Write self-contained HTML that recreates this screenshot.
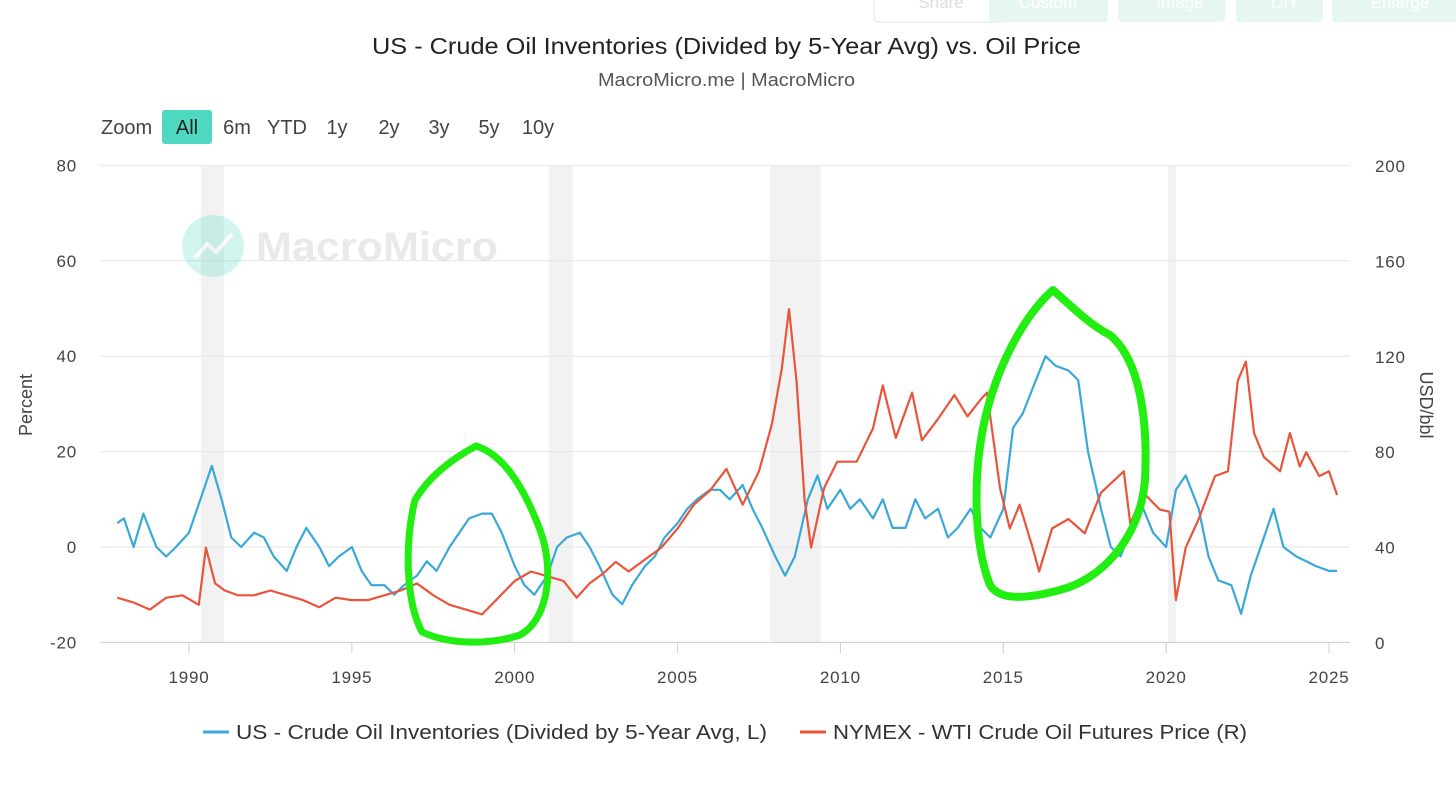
<!DOCTYPE html>
<html><head><meta charset="utf-8">
<style>
body{margin:0;background:#fff;font-family:"Liberation Sans",sans-serif;}
svg text{font-family:"Liberation Sans",sans-serif;}
</style></head>
<body>
<svg id="c" width="1456" height="797" xmlns="http://www.w3.org/2000/svg">
<g>
<rect x="874" y="-12" width="134" height="34" rx="4" fill="#fff" stroke="#e5e5e5"/>
<text x="941" y="8" text-anchor="middle" font-size="17" fill="#ddd">Share</text>
<rect x="989" y="-12" width="119" height="34" rx="4" fill="#e6f6f1"/>
<text x="1048" y="8" text-anchor="middle" font-size="17" fill="#fff">Custom</text>
<rect x="1118" y="-12" width="107" height="34" rx="4" fill="#e6f6f1"/>
<text x="1180" y="8" text-anchor="middle" font-size="17" fill="#fff">Image</text>
<rect x="1236" y="-12" width="87" height="34" rx="4" fill="#e6f6f1"/>
<text x="1285" y="8" text-anchor="middle" font-size="17" fill="#fff">DIY</text>
<rect x="1332" y="-12" width="130" height="34" rx="4" fill="#e6f6f1"/>
<text x="1400" y="8" text-anchor="middle" font-size="17" fill="#fff">Enlarge</text>
</g>
<text x="372" y="54" textLength="709" lengthAdjust="spacingAndGlyphs" font-size="23" fill="#222">US - Crude Oil Inventories (Divided by 5-Year Avg) vs. Oil Price</text>
<text x="598" y="86" textLength="257" lengthAdjust="spacingAndGlyphs" font-size="18" fill="#555">MacroMicro.me | MacroMicro</text>
<g>
<text x="101" y="134" font-size="20" fill="#444">Zoom</text>
<rect x="162" y="110" width="50" height="34" rx="3" fill="#4fd8c0"/>
<text x="187" y="134" text-anchor="middle" font-size="20" fill="#222">All</text>
<text x="237" y="134" text-anchor="middle" font-size="20" fill="#444">6m</text>
<text x="287" y="134" text-anchor="middle" font-size="20" fill="#444">YTD</text>
<text x="337" y="134" text-anchor="middle" font-size="20" fill="#444">1y</text>
<text x="389" y="134" text-anchor="middle" font-size="20" fill="#444">2y</text>
<text x="439" y="134" text-anchor="middle" font-size="20" fill="#444">3y</text>
<text x="489" y="134" text-anchor="middle" font-size="20" fill="#444">5y</text>
<text x="538" y="134" text-anchor="middle" font-size="20" fill="#444">10y</text>
</g>
<g id="bands"></g>
<g id="grid"></g>
<g opacity="0.25">
<circle cx="213" cy="246" r="31" fill="#4fd8c0"/>
<polyline points="195,258 207,244 216,252 232,234" fill="none" stroke="#fff" stroke-width="4"/>
<text x="256" y="260" textLength="242" lengthAdjust="spacingAndGlyphs" font-size="40" font-weight="bold" fill="#aaa">MacroMicro</text>
</g>
<g id="series"></g>
<g fill="none" stroke="#22ee11" stroke-linecap="round" stroke-linejoin="round">
<path stroke-width="7" d="M476,446 C505,455 525,490 540,530 C555,570 548,620 520,635 C490,645 450,645 422,632 C405,600 405,540 415,500 C428,478 450,460 476,446"/>
<path stroke-width="8" d="M1053,290 C1070,305 1090,325 1110,335 C1140,360 1148,420 1145,480 C1140,540 1100,580 1060,590 C1030,598 1000,602 990,585 C972,540 972,460 990,400 C1005,350 1030,310 1053,290"/>
</g>
<text x="32" y="405" transform="rotate(-90 32 405)" text-anchor="middle" font-size="18" fill="#444">Percent</text>
<text x="1420" y="405" transform="rotate(90 1420 405)" text-anchor="middle" font-size="18" fill="#444">USD/bbl</text>
<g>
<line x1="203" y1="732" x2="229" y2="732" stroke="#3aa8d8" stroke-width="3"/>
<text x="236" y="739" textLength="531" lengthAdjust="spacingAndGlyphs" font-size="20" fill="#333">US - Crude Oil Inventories (Divided by 5-Year Avg, L)</text>
<line x1="800" y1="732" x2="826" y2="732" stroke="#e8553a" stroke-width="3"/>
<text x="833" y="739" textLength="414" lengthAdjust="spacingAndGlyphs" font-size="20" fill="#333">NYMEX - WTI Crude Oil Futures Price (R)</text>
</g>
</svg>
<script>
const leftTicks=[80,60,40,20,0,-20];
const rightTicks=[200,160,120,80,40,0];
const xTicks=[1990,1995,2000,2005,2010,2015,2020,2025];
const recessions=[[1990.37,1991.07],[2001.05,2001.79],[2007.84,2009.4],[2020.06,2020.3]];
const invDates=[1987.8,1988,1988.3,1988.6,1989,1989.3,1989.6,1990,1990.2,1990.45,1990.7,1991,1991.3,1991.6,1992,1992.3,1992.6,1993,1993.3,1993.6,1994,1994.3,1994.6,1995,1995.3,1995.6,1996,1996.3,1996.6,1997,1997.3,1997.6,1998,1998.3,1998.6,1999,1999.3,1999.6,2000,2000.3,2000.6,2001,2001.3,2001.6,2002,2002.3,2002.6,2003,2003.3,2003.6,2004,2004.3,2004.6,2005,2005.3,2005.6,2006,2006.3,2006.6,2007,2007.3,2007.6,2008,2008.3,2008.6,2009,2009.3,2009.6,2010,2010.3,2010.6,2011,2011.3,2011.6,2012,2012.3,2012.6,2013,2013.3,2013.6,2014,2014.3,2014.6,2015,2015.3,2015.6,2016,2016.3,2016.6,2017,2017.3,2017.6,2018,2018.3,2018.6,2019,2019.3,2019.6,2020,2020.3,2020.6,2021,2021.3,2021.6,2022,2022.3,2022.6,2023,2023.3,2023.6,2024,2024.3,2024.6,2025,2025.25];
const invValues=[5,6,0,7,0,-2,0,3,7,12,17,10,2,0,3,2,-2,-5,0,4,0,-4,-2,0,-5,-8,-8,-10,-8,-6,-3,-5,0,3,6,7,7,3,-4,-8,-10,-6,0,2,3,0,-4,-10,-12,-8,-4,-2,2,5,8,10,12,12,10,13,8,4,-2,-6,-2,10,15,8,12,8,10,6,10,4,4,10,6,8,2,4,8,4,2,8,25,28,35,40,38,37,35,20,8,0,-2,5,8,3,0,12,15,8,-2,-7,-8,-14,-6,2,8,0,-2,-3,-4,-5,-5];
const wtiDates=[1987.8,1988.3,1988.8,1989.3,1989.8,1990.3,1990.52,1990.8,1991.1,1991.5,1992,1992.5,1993,1993.5,1994,1994.5,1995,1995.5,1996,1996.5,1997,1997.5,1998,1998.5,1999,1999.5,2000,2000.5,2001,2001.5,2001.9,2002.3,2002.7,2003.1,2003.5,2004,2004.5,2005,2005.5,2006,2006.5,2007,2007.5,2007.9,2008.2,2008.42,2008.65,2008.9,2009.1,2009.5,2009.9,2010.5,2011,2011.3,2011.7,2012.2,2012.5,2013,2013.5,2013.9,2014.3,2014.5,2014.9,2015.2,2015.5,2015.9,2016.1,2016.5,2017,2017.5,2018,2018.7,2018.9,2019.3,2019.8,2020.1,2020.3,2020.6,2021,2021.5,2021.9,2022.2,2022.45,2022.7,2023,2023.5,2023.8,2024.1,2024.3,2024.7,2025,2025.25];
const wtiValues=[19,17,14,19,20,16,40,25,22,20,20,22,20,18,15,19,18,18,20,22,25,20,16,14,12,19,26,30,28,26,19,25,29,34,30,35,40,48,58,64,73,58,72,92,115,140,110,60,40,65,76,76,90,108,86,105,85,94,104,95,102,105,65,48,58,40,30,48,52,46,63,72,50,63,56,55,18,40,52,70,72,110,118,88,78,72,88,74,80,70,72,62];
const NS="http://www.w3.org/2000/svg";
const X0=100,X1=1350;
const xS=y=>189+(y-1990)*(1140/35);
const yL=v=>547-v*4.77;
const yR=v=>643-v*2.385;
function mk(tag,attrs,parent){const e=document.createElementNS(NS,tag);for(const k in attrs)e.setAttribute(k,attrs[k]);parent.appendChild(e);return e;}
const bands=document.getElementById('bands'),grid=document.getElementById('grid'),ser=document.getElementById('series');
recessions.forEach(r=>{const e=mk('rect',{x:xS(r[0]),y:166,width:xS(r[1])-xS(r[0]),height:477,fill:'#f2f2f2'},bands);

});
leftTicks.forEach((t,i)=>{const y=yL(t);
const l=mk('line',{x1:X0,x2:X1,y1:y,y2:y,stroke:t===-20?'#ccc':'#e6e6e6','stroke-width':1},grid);


const a=mk('text',{x:77,y:y+6,'text-anchor':'end','font-size':17,'letter-spacing':0.8,fill:'#444'},grid);a.textContent=t;


const b=mk('text',{x:1375,y:yR(rightTicks[i])+6,'font-size':17,'letter-spacing':0.8,fill:'#444'},grid);b.textContent=rightTicks[i];

});
xTicks.forEach(t=>{const x=xS(t);
mk('line',{x1:x,x2:x,y1:643,y2:653,stroke:'#ccc'},grid);
const a=mk('text',{x:x,y:683,'text-anchor':'middle','font-size':17,'letter-spacing':0.8,fill:'#444'},grid);a.textContent=t;

});
function line(d,v,ys,col,name){const p=mk('path',{d:d.map((t,i)=>(i?'L':'M')+xS(t).toFixed(1)+','+ys(v[i]).toFixed(1)).join(''),fill:'none',stroke:col,'stroke-width':2.2,'stroke-linejoin':'round'},ser);

}
line(invDates,invValues,yL,'#3aa8d8','inventories-line');
line(wtiDates,wtiValues,yR,'#e8553a','wti-price-line');
</script>
</body></html>
